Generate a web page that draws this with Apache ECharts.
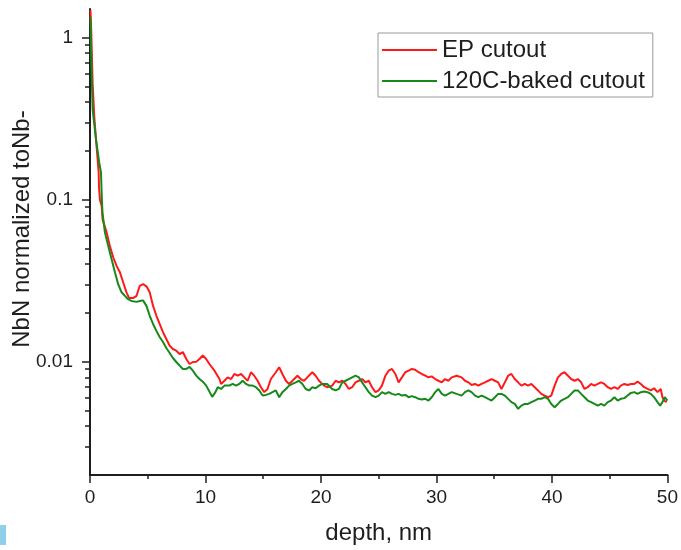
<!DOCTYPE html>
<html>
<head>
<meta charset="utf-8">
<script src="https://cdn.jsdelivr.net/npm/echarts@6/dist/echarts.min.js"></script>
<style>html,body{margin:0;padding:0;background:#fff}#c{width:681px;height:550px}</style>
</head>
<body>
<div id="c"></div>
<script>
var seriesNames = ['EP cutout', '120C-baked cutout'];
var xTicks = [0, 10, 20, 30, 40, 50];
var yMajorTicks = [0.01, 0.1, 1];
var yMinorTicks = [0.003,0.004,0.005,0.006,0.007,0.008,0.009,0.02,0.03,0.04,0.05,0.06,0.07,0.08,0.09,0.2,0.3,0.4,0.5,0.6,0.7,0.8,0.9];

var redDepth = [0.04,0.11,0.23,0.37,0.52,0.66,0.75,0.78,0.86,1.01,1.09,1.44,1.72,2.01,2.30,2.59,2.87,3.16,3.39,3.73,4.03,4.31,4.59,4.89,5.17,5.46,5.75,6.03,6.32,6.61,6.90,7.18,7.47,7.76,8.04,8.34,8.62,8.91,9.20,9.48,9.77,10.06,10.34,10.78,11.21,11.35,11.64,11.92,12.22,12.50,12.78,13.08,13.36,13.65,13.94,14.22,14.51,14.80,15.09,15.37,15.66,16.09,16.38,16.66,16.96,17.24,17.53,17.96,18.25,18.53,18.82,19.25,19.54,19.83,20.26,20.54,20.97,21.27,21.55,21.84,22.13,22.41,22.70,22.99,23.28,23.56,23.85,24.14,24.42,24.72,25.00,25.28,25.58,25.86,26.15,26.44,26.72,27.01,27.30,27.59,27.87,28.16,28.45,28.73,29.03,29.31,29.59,29.89,30.17,30.46,30.75,31.03,31.32,31.75,32.18,32.47,32.76,33.04,33.34,33.62,33.91,34.20,34.48,34.77,35.06,35.34,35.63,35.92,36.21,36.49,36.78,37.07,37.35,37.65,37.93,38.22,38.51,38.79,39.08,39.37,39.66,39.94,40.23,40.52,40.80,41.09,41.38,41.66,41.96,42.24,42.53,42.82,43.10,43.39,43.68,43.97,44.25,44.54,44.83,45.11,45.41,45.69,45.97,46.27,46.55,46.84,47.13,47.41,47.70,47.99,48.28,48.56,48.85,49.14,49.42,49.57,49.72,49.94];
var redValue = [1.48,1.07,0.52,0.325,0.235,0.177,0.147,0.119,0.100,0.0912,0.0755,0.0628,0.0517,0.0441,0.0390,0.0356,0.0309,0.0268,0.0247,0.0247,0.0255,0.0294,0.0301,0.0292,0.0268,0.0221,0.0192,0.0171,0.0152,0.0138,0.01255,0.01198,0.01169,0.01115,0.01147,0.01039,0.00968,0.00996,0.0100,0.01039,0.01093,0.01039,0.00968,0.00880,0.00782,0.00729,0.00763,0.00801,0.00782,0.00840,0.00820,0.00840,0.00801,0.00763,0.00861,0.00820,0.00763,0.00696,0.00649,0.00679,0.00782,0.00861,0.00924,0.00840,0.00763,0.00729,0.00763,0.00820,0.00782,0.00763,0.00801,0.00861,0.00820,0.00763,0.00712,0.00696,0.00712,0.00763,0.00746,0.00763,0.00729,0.00679,0.00696,0.00746,0.00763,0.00782,0.00746,0.00763,0.00696,0.00649,0.00665,0.00712,0.00820,0.00880,0.00902,0.00840,0.00746,0.00801,0.00861,0.00880,0.00902,0.00893,0.00861,0.00840,0.00820,0.00801,0.00812,0.00782,0.00763,0.00746,0.00782,0.00763,0.00801,0.00820,0.00801,0.00763,0.00746,0.00719,0.00729,0.00712,0.00729,0.00746,0.00763,0.00782,0.00763,0.00746,0.00679,0.00746,0.00820,0.00840,0.00782,0.00746,0.00712,0.00729,0.00712,0.00729,0.00696,0.00665,0.00633,0.00618,0.00604,0.00618,0.00712,0.00801,0.00840,0.00861,0.00820,0.00782,0.00763,0.00782,0.00746,0.00679,0.00696,0.00729,0.00712,0.00729,0.00746,0.00729,0.00696,0.00679,0.00696,0.00679,0.00712,0.00729,0.00719,0.00729,0.00729,0.00753,0.00729,0.00696,0.00679,0.00665,0.00686,0.00649,0.00679,0.00604,0.00576,0.00563];

var greenDepth = [0.04,0.09,0.23,0.52,0.80,0.95,1.03,1.08,1.29,1.58,1.87,2.16,2.44,2.73,3.02,3.30,3.59,4.03,4.31,4.59,4.89,5.17,5.46,5.75,6.03,6.32,6.61,6.90,7.18,7.47,7.76,8.04,8.34,8.62,8.91,9.20,9.48,9.77,10.06,10.34,10.58,10.86,11.06,11.35,11.64,12.07,12.35,12.65,12.93,13.22,13.51,13.79,14.08,14.37,14.66,14.94,15.23,15.52,15.80,16.09,16.38,16.66,16.96,17.24,17.53,17.82,18.10,18.39,18.68,18.97,19.25,19.54,19.83,20.11,20.54,20.97,21.27,21.55,21.84,22.13,22.41,22.70,22.99,23.28,23.56,23.85,24.14,24.42,24.72,25.00,25.28,25.58,25.86,26.15,26.44,26.72,27.01,27.30,27.59,27.87,28.16,28.45,28.73,29.03,29.31,29.59,29.89,30.17,30.46,30.75,31.03,31.32,31.75,32.18,32.47,32.76,33.04,33.34,33.62,33.91,34.20,34.48,34.77,35.06,35.34,35.63,35.92,36.21,36.49,36.78,37.07,37.35,37.65,37.93,38.22,38.51,38.79,39.08,39.37,39.66,39.94,40.23,40.52,40.80,41.09,41.38,41.66,41.96,42.24,42.53,42.82,43.10,43.39,43.68,43.97,44.25,44.54,44.83,45.11,45.41,45.69,45.97,46.27,46.55,46.84,47.13,47.41,47.70,47.99,48.28,48.56,48.85,49.14,49.37,49.57,49.77,50.00];
var greenValue = [1.34,0.84,0.359,0.235,0.169,0.147,0.100,0.0834,0.0628,0.0517,0.0429,0.0356,0.0301,0.0268,0.0255,0.0243,0.0237,0.0234,0.0237,0.0239,0.0221,0.0192,0.0171,0.0155,0.0142,0.01322,0.01215,0.01131,0.01054,0.00996,0.00946,0.00902,0.00902,0.00928,0.00880,0.00820,0.00782,0.00753,0.00712,0.00654,0.00607,0.00649,0.00696,0.00679,0.00712,0.00712,0.00729,0.00712,0.00729,0.00763,0.00729,0.00712,0.00712,0.00696,0.00665,0.00618,0.00624,0.00633,0.00649,0.00665,0.00604,0.00649,0.00679,0.00712,0.00729,0.00746,0.00763,0.00729,0.00679,0.00665,0.00696,0.00686,0.00712,0.00729,0.00729,0.00679,0.00665,0.00679,0.00746,0.00763,0.00782,0.00801,0.00820,0.00801,0.00746,0.00696,0.00649,0.00618,0.00604,0.00618,0.00649,0.00633,0.00649,0.00633,0.00624,0.00633,0.00618,0.00624,0.00604,0.00613,0.00604,0.00590,0.00584,0.00590,0.00576,0.00604,0.00649,0.00679,0.00633,0.00618,0.00633,0.00649,0.00633,0.00618,0.00649,0.00665,0.00649,0.00618,0.00604,0.00618,0.00604,0.00590,0.00576,0.00604,0.00633,0.00633,0.00618,0.00590,0.00563,0.00549,0.00512,0.00536,0.00549,0.00549,0.00563,0.00576,0.00590,0.00590,0.00604,0.00590,0.00549,0.00524,0.00549,0.00576,0.00590,0.00604,0.00633,0.00665,0.00665,0.00633,0.00604,0.00576,0.00563,0.00549,0.00536,0.00549,0.00536,0.00563,0.00576,0.00604,0.00576,0.00590,0.00596,0.00618,0.00642,0.00649,0.00633,0.00649,0.00654,0.00649,0.00633,0.00604,0.00563,0.00536,0.00563,0.00604,0.00576];

function pairs(xs, ys) { var out = []; for (var i = 0; i < xs.length; i++) out.push([xs[i], ys[i]]); return out; }

var FONT = 'Liberation Sans, Arial, sans-serif';
var INK = '#1e1e1e';
var chart = echarts.init(document.getElementById('c'), null, {renderer: 'canvas'});
chart.setOption({
  animation: false,
  backgroundColor: '#ffffff',
  grid: {left: 90, right: 10, top: 9, bottom: 73, containLabel: false},
  legend: {
    orient: 'vertical', left: 378, top: 33,
    padding: [5, 8, 4, 4], itemGap: 7,
    itemWidth: 55, itemHeight: 2, icon: 'rect',
    borderColor: '#9a9a9a', borderWidth: 1, backgroundColor: '#fff',
    textStyle: {fontFamily: FONT, fontSize: 24, color: INK, lineHeight: 24},
    data: seriesNames
  },
  xAxis: {
    type: 'value', min: xTicks[0], max: xTicks[xTicks.length - 1], interval: 10,
    name: 'depth, nm', nameLocation: 'middle', nameGap: 46,
    nameTextStyle: {fontFamily: FONT, fontSize: 24, color: INK},
    axisLine: {show: true, onZero: false, lineStyle: {color: INK, width: 2}},
    axisTick: {show: true, length: 8, lineStyle: {color: INK, width: 1.5}},
    minorTick: {show: true, splitNumber: 2, length: 4, lineStyle: {color: INK, width: 1.5}},
    axisLabel: {fontFamily: FONT, fontSize: 19, color: INK, margin: 13},
    splitLine: {show: false}
  },
  yAxis: [{
    type: 'log', logBase: 10, min: 0.002, max: 1.5, position: 'left',
    axisLine: {show: true, lineStyle: {color: INK, width: 2}},
    axisTick: {show: true, length: 8, lineStyle: {color: INK, width: 1.5}, customValues: yMajorTicks},
    axisLabel: {fontFamily: FONT, fontSize: 19, color: INK, margin: 17, customValues: yMajorTicks,
      formatter: function (v) { return String(+v.toPrecision(6)); }},
    splitLine: {show: false}
  }, {
    type: 'log', logBase: 10, min: 0.002, max: 1.5, position: 'left', offset: 0,
    axisLine: {show: false},
    axisTick: {show: true, length: 5, lineStyle: {color: INK, width: 1.5}, customValues: yMinorTicks},
    axisLabel: {show: false},
    splitLine: {show: false}
  }],
  graphic: [
    {type: 'text', x: 22, y: 229, rotation: Math.PI / 2,
      style: {text: 'NbN normalized toNb-', font: '24px ' + FONT, fill: INK, textAlign: 'center', textVerticalAlign: 'middle'}},
    {type: 'rect', shape: {x: 0, y: 525, width: 6, height: 20}, style: {fill: '#8fd0e8'}}
  ],
  series: [
    {name: seriesNames[0], type: 'line', yAxisIndex: 0, showSymbol: false, symbol: 'none',
      lineStyle: {color: '#ff1a1a', width: 2}, itemStyle: {color: '#ff1a1a'},
      data: pairs(redDepth, redValue), z: 3},
    {name: seriesNames[1], type: 'line', yAxisIndex: 0, showSymbol: false, symbol: 'none',
      lineStyle: {color: '#16891a', width: 2}, itemStyle: {color: '#16891a'},
      data: pairs(greenDepth, greenValue), z: 4}
  ]
});
</script>
</body>
</html>
